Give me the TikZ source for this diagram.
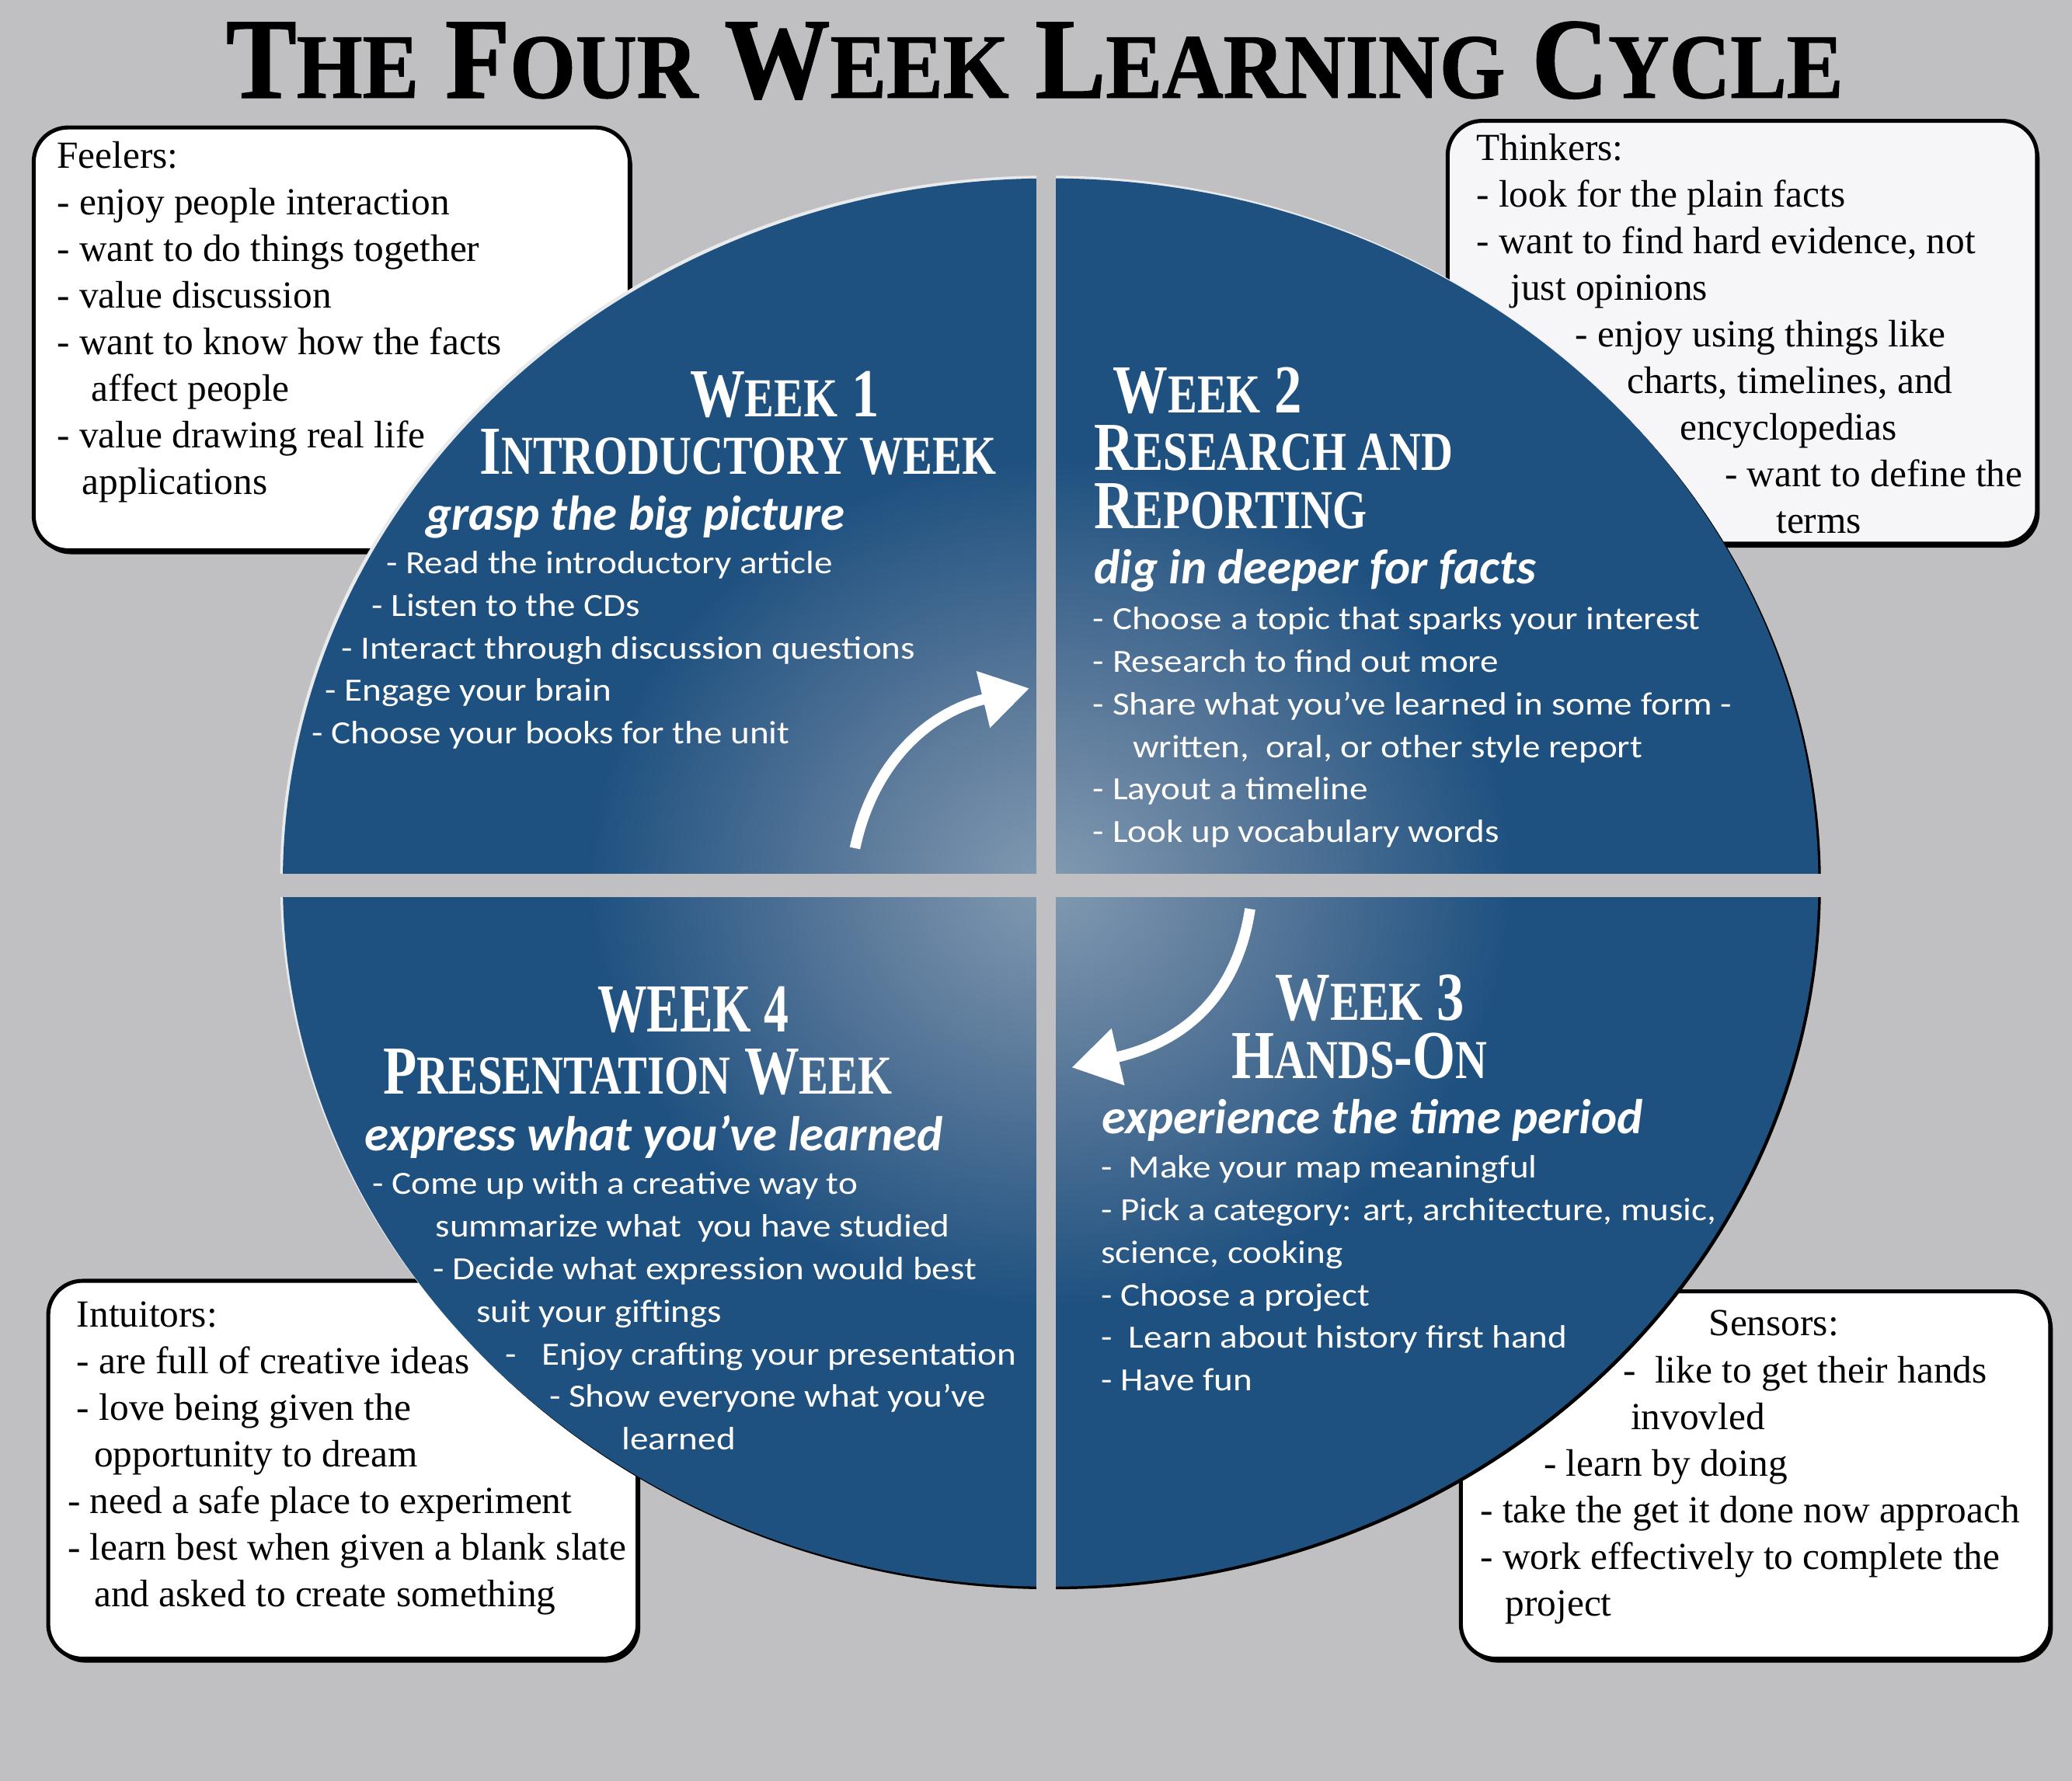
\documentclass[tikz,border=0pt]{standalone}
\usepackage{fontspec}
\usepackage{graphicx}
\usepackage{xcolor}
\usepackage{tikz}
\usetikzlibrary{arrows.meta,shadows}
\newfontfamily\titlefont[FakeStretch=0.92,FakeBold=1]{Liberation Serif}
\newfontfamily\headfont[FakeStretch=0.80]{Liberation Serif}
\newfontfamily\boxfont{Liberation Serif}
\newfontfamily\bodyfont[FakeStretch=1.13]{Carlito}
\newfontfamily\leadfont{Carlito}
\definecolor{lcgray}{RGB}{192,192,194}
\definecolor{lcnavy}{RGB}{31,81,128}
\definecolor{lcglow}{RGB}{130,154,178}
\definecolor{lcmist}{RGB}{94,124,156}
\definecolor{lcpale}{RGB}{246,246,248}
\definecolor{lcrim}{RGB}{232,234,236}
\pgfdeclareradialshading{lcshine}{\pgfpoint{0bp}{0bp}}{%
  color(0bp)=(lcglow); color(6bp)=(lcmist); color(15bp)=(lcnavy);
  color(25bp)=(lcnavy); color(50bp)=(lcnavy)}
\newcommand{\Sc}[1]{\scalebox{0.8}{#1}}
\newcommand{\Lead}{\rule{0pt}{1em}}
\tikzset{
  sortbox/.style={draw=black,line width=3pt,fill=white,rounded corners=26pt,
    inner sep=0pt,drop shadow={shadow xshift=2pt,shadow yshift=-3pt,opacity=1,fill=black}},
  boxtext/.style={anchor=north west,inner sep=0pt,align=left,
    font=\boxfont\fontsize{29}{35.3}\selectfont},
  weekhead/.style={anchor=north west,inner sep=0pt,align=left,text=white,
    font=\headfont\bfseries\fontsize{52}{44}\selectfont},
  weektag/.style={anchor=base west,inner sep=0pt,text=white,
    font=\leadfont\bfseries\itshape\fontsize{37}{37}\selectfont},
  weeklist/.style={anchor=north west,inner sep=0pt,align=left,text=white,
    font=\bodyfont\fontsize{24.5}{32.2}\selectfont},
  cyclearrow/.style={draw=white,line width=8pt,-{Triangle[length=36pt,width=42pt]}}
}
\begin{document}
\begin{tikzpicture}[x=1pt,y=-1pt]
\fill[lcgray] (0,0) rectangle (1568,1348);
\useasboundingbox (0,0) rectangle (1568,1348);
\node[anchor=base,inner sep=0pt,font=\titlefont\bfseries\fontsize{87}{87}\selectfont] (title) at (783,74)
  {T\Sc{HE} F\Sc{OUR} W\Sc{EEK} L\Sc{EARNING} C\Sc{YCLE}};

\node[sortbox,minimum width=451pt,minimum height=320pt] (feelbox) at (251,256.5) {};
\node[sortbox,fill=lcpale,minimum width=446pt,minimum height=320pt] (thinkbox) at (1318.5,251.5) {};
\node[sortbox,minimum width=446pt,minimum height=286pt] (intubox) at (259.5,1112.5) {};
\node[sortbox,minimum width=446pt,minimum height=278pt] (sensbox) at (1328.5,1116.5) {};

\node[boxtext] (feeltext) at (43,98) {\Lead Feelers:\\
- enjoy people interaction\\
- want to do things together\\
- value discussion\\
- want to know how the facts\\
\hspace*{26pt}affect people\\
- value drawing real life\\
\hspace*{19pt}applications};
\node[boxtext] (thinktext) at (1117,92) {\Lead Thinkers:\\
- look for the plain facts\\
- want to find hard evidence, not\\
\hspace*{26pt}just opinions\\
\hspace*{75pt}- enjoy using things like\\
\hspace*{114pt}charts, timelines, and\\
\hspace*{154pt}encyclopedias\\
\hspace*{188pt}- want to define the\\
\hspace*{227pt}terms};
\node[boxtext] (intutext) at (51,975) {\Lead\hspace*{7pt}Intuitors:\\
\hspace*{7pt}- are full of creative ideas\\
\hspace*{7pt}- love being given the\\
\hspace*{20pt}opportunity to dream\\
- need a safe place to experiment\\
- learn best when given a blank slate\\
\hspace*{20pt}and asked to create something};
\node[boxtext] (senstext) at (1120,982) {\Lead\hspace*{173pt}Sensors:\\
\hspace*{108pt}-\ \ like to get their hands\\
\hspace*{114pt}invovled\\
\hspace*{48pt}- learn by doing\\
- take the get it done now approach\\
- work effectively to complete the\\
\hspace*{19pt}project};

\fill[black] (797,670) ellipse [x radius=581pt,y radius=533pt];
\fill[lcrim] (793,666) ellipse [x radius=581pt,y radius=533pt];
\shade[shading=lcshine] (795,668) ellipse [x radius=581pt,y radius=533pt];
\fill[lcgray] (784.5,125) rectangle (799,1212);
\fill[lcgray] (200,661.5) rectangle (1392,679);

\node[weekhead] (w1head) at (363,263) {\Lead\hspace*{159pt}W\Sc{EEK} 1\\
I\Sc{NTRODUCTORY WEEK}};
\node[weektag] (w1tag) at (322,401) {grasp the big picture};
\node[weeklist] (w1list) at (236,409.5) {\Lead\hspace*{56pt}- Read the introductory article\\
\hspace*{45pt}- Listen to the CDs\\
\hspace*{22pt}- Interact through discussion questions\\
\hspace*{10pt}- Engage your brain\\
- Choose your books for the unit};

\node[weekhead] (w2head) at (828,260) {\Lead\hspace*{14pt}W\Sc{EEK} 2\\
R\Sc{ESEARCH AND}\\
R\Sc{EPORTING}};
\node[weektag] (w2tag) at (828,442) {dig in deeper for facts};
\node[weeklist] (w2list) at (827,452) {\Lead - Choose a topic that sparks your interest\\
- Research to find out more\\
- Share what you’ve learned in some form -\\
\hspace*{30pt}written,\ \ oral, or other style report\\
- Layout a timeline\\
- Look up vocabulary words};

\node[weekhead] (w3head) at (932,720) {\Lead\hspace*{33pt}W\Sc{EEK} 3\\
H\Sc{ANDS}-O\Sc{N}};
\node[weektag] (w3tag) at (834,858) {experience the time period};
\node[weeklist] (w3list) at (833,867) {\Lead -\ \ Make your map meaningful\\
- Pick a category: art, architecture, music,\\
science, cooking\\
- Choose a project\\
-\ \ Learn about history first hand\\
- Have fun};

\node[weekhead] (w4head) at (290,729) {\Lead\hspace*{162pt}\scalebox{0.9}[1]{WEEK 4}\\[3pt]
P\Sc{RESENTATION} W\Sc{EEK}};
\node[weektag] (w4tag) at (276,871) {express what you’ve learned};
\node[weeklist] (w4list) at (281.5,879.5) {\Lead - Come up with a creative way to\\
\hspace*{48pt}summarize what\ \ you have studied\\
\hspace*{46pt}- Decide what expression would best\\
\hspace*{79pt}suit your giftings\\
\hspace*{101pt}-\ \ \ Enjoy crafting your presentation\\
\hspace*{134pt}- Show everyone what you’ve\\
\hspace*{189pt}learned};

\coordinate (a1tail) at (647,642);
\coordinate (a1head) at (779,521);
\coordinate (a2tail) at (946,688);
\coordinate (a2head) at (811,808);
\draw[cyclearrow] (a1tail) .. controls (660,580) and (700,540) .. (a1head);
\draw[cyclearrow] (a2tail) .. controls (935,760) and (890,790) .. (a2head);
\end{tikzpicture}
\end{document}
